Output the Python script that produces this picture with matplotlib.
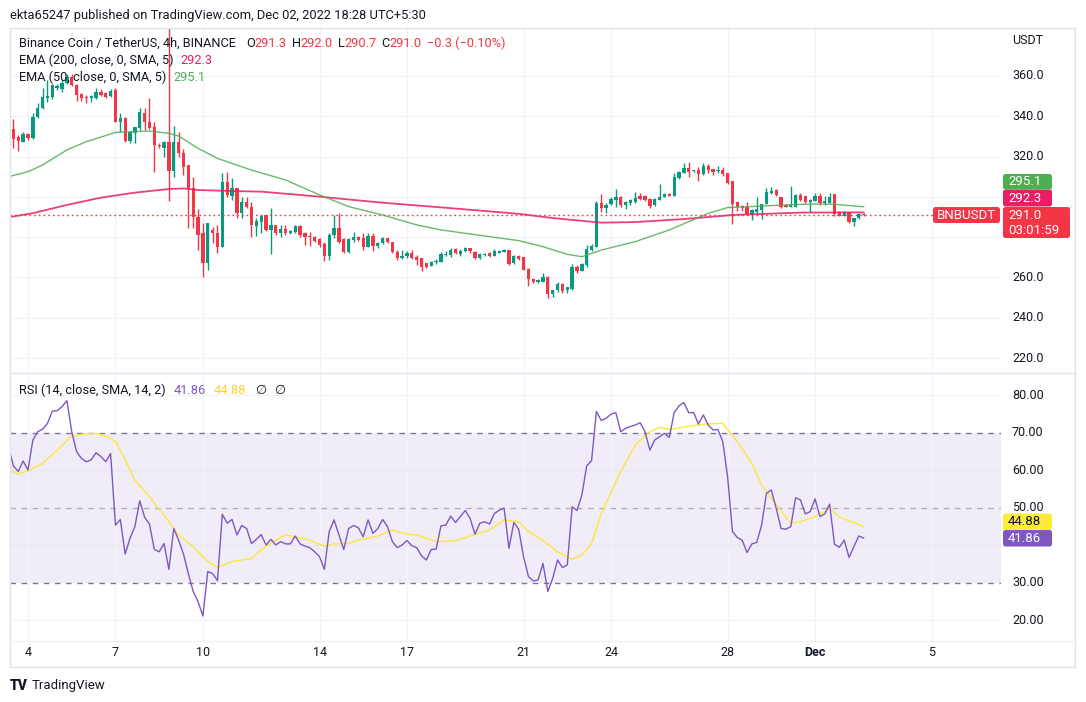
import matplotlib
matplotlib.use("Agg")
import matplotlib.pyplot as plt
from matplotlib.patches import FancyBboxPatch
from matplotlib.transforms import IdentityTransform, blended_transform_factory
from matplotlib.lines import Line2D

plt.rcParams['font.family'] = ['Roboto', 'DejaVu Sans']

# ---------------- data ----------------
opens = [326.0, 333.5, 329.6, 327.4, 331.2, 329.1, 339.8, 344.0, 349.0, 349.5,
         354.0, 353.5, 356.4, 359.7, 355.5, 351.0, 349.7, 348.9, 348.9, 352.2,
         351.4, 350.2, 353.0, 337.3, 339.0, 327.8, 331.5, 334.0, 341.5, 337.3,
         334.9, 325.8, 324.4, 327.1, 313.0, 327.4, 321.6, 315.8, 304.2, 290.2,
         282.0, 267.0, 283.6, 281.9, 275.3, 307.6, 300.4, 304.2, 291.8, 297.6,
         295.1, 285.6, 287.7, 291.0, 283.6, 286.0, 282.3, 284.1, 282.3, 282.8,
         285.6, 281.9, 280.6, 280.0, 278.9, 276.5, 270.8, 281.0, 284.4, 279.0,
         272.5, 278.6, 280.3, 279.4, 275.3, 280.8, 275.8, 277.0, 279.4, 277.5,
         272.5, 269.8, 270.6, 272.0, 270.3, 269.8, 267.4, 265.9, 267.6, 267.9,
         271.2, 271.2, 274.0, 271.5, 273.1, 274.5, 272.8, 269.5, 271.2, 272.0,
         270.8, 272.3, 272.8, 273.6, 267.1, 270.7, 270.0, 264.0, 259.1, 258.0,
         258.0, 260.4, 251.8, 253.8, 256.8, 253.8, 254.1, 265.4, 263.4, 266.2,
         273.7, 275.3, 297.1, 294.3, 296.3, 298.5, 299.8, 296.0, 296.8, 297.6,
         300.4, 300.4, 298.8, 296.0, 298.5, 300.1, 301.4, 300.4, 309.2, 312.0,
         314.2, 312.8, 313.4, 311.2, 315.3, 314.0, 312.8, 313.3, 312.0, 307.9,
         297.6, 295.5, 294.8, 291.5, 292.7, 293.5, 296.5, 301.8, 303.4, 300.1,
         296.0, 295.2, 295.2, 300.9, 300.4, 297.6, 298.0, 300.4, 296.8, 297.1,
         301.4, 292.7, 290.5, 292.7, 287.7, 289.4, 291.3]
highs = [334.0, 338.5, 330.7, 332.4, 331.5, 341.8, 346.4, 354.2, 358.0, 356.0,
         356.0, 358.0, 361.0, 361.0, 356.0, 351.5, 350.6, 350.6, 353.9, 353.5,
         352.2, 353.5, 353.9, 341.5, 339.5, 332.6, 334.9, 344.3, 344.3, 349.3,
         337.3, 326.5, 327.7, 398.0, 335.0, 332.4, 324.0, 315.8, 310.0, 294.0,
         287.0, 287.0, 285.0, 286.0, 311.7, 312.5, 309.2, 304.2, 300.0, 300.0,
         297.6, 289.4, 291.0, 291.0, 294.3, 286.0, 286.0, 286.0, 283.6, 286.0,
         286.0, 282.8, 282.8, 280.6, 279.4, 277.8, 281.9, 291.0, 292.0, 279.4,
         279.5, 282.8, 280.8, 281.9, 281.9, 281.9, 277.8, 280.0, 279.8, 277.8,
         273.6, 273.6, 273.2, 273.6, 271.0, 269.8, 267.4, 268.2, 269.2, 272.5,
         273.2, 274.5, 274.5, 274.0, 275.3, 274.8, 273.2, 272.0, 272.3, 272.5,
         274.2, 273.8, 274.0, 273.8, 271.2, 271.2, 270.0, 264.5, 259.6, 259.1,
         262.4, 260.7, 254.0, 258.0, 257.2, 255.5, 266.6, 266.0, 267.0, 276.0,
         276.5, 298.0, 301.4, 296.8, 300.0, 303.8, 300.2, 298.0, 299.0, 302.6,
         301.7, 300.8, 299.2, 299.5, 306.2, 301.8, 302.0, 311.7, 313.0, 316.7,
         317.5, 313.5, 315.0, 316.7, 316.3, 314.0, 315.3, 315.0, 312.0, 307.9,
         298.1, 296.0, 297.6, 293.8, 299.8, 296.5, 304.2, 305.1, 303.8, 300.1,
         296.2, 305.4, 301.2, 301.8, 300.6, 298.8, 302.1, 302.1, 300.4, 302.1,
         301.4, 292.9, 292.9, 292.7, 289.4, 292.2, 292.0]
lows = [322.0, 324.1, 322.9, 327.0, 328.2, 328.6, 339.0, 343.6, 347.0, 348.4,
        353.0, 352.2, 355.8, 355.0, 347.8, 347.5, 346.4, 347.3, 348.5, 350.3,
        348.9, 349.7, 337.0, 332.4, 327.0, 326.6, 326.6, 333.2, 333.2, 333.7,
        312.5, 324.4, 320.0, 298.0, 310.0, 320.0, 311.0, 284.4, 284.4, 273.6,
        260.4, 263.7, 277.0, 272.0, 275.0, 300.1, 298.5, 289.4, 289.4, 294.3,
        280.3, 280.6, 282.3, 283.2, 271.7, 281.1, 280.3, 281.1, 281.5, 282.0,
        280.3, 276.1, 275.6, 277.8, 275.3, 268.2, 268.7, 279.5, 277.0, 272.0,
        272.0, 277.8, 278.1, 273.7, 275.0, 273.2, 274.5, 276.6, 277.2, 272.0,
        268.7, 269.0, 269.8, 269.2, 266.2, 263.2, 264.5, 265.6, 266.5, 267.5,
        270.8, 270.3, 271.5, 270.8, 272.8, 272.0, 269.0, 269.0, 270.7, 270.3,
        270.5, 272.0, 272.5, 266.2, 266.7, 268.7, 263.5, 255.8, 257.1, 257.1,
        257.8, 250.0, 250.5, 253.0, 252.5, 252.5, 254.0, 262.0, 263.0, 265.0,
        273.2, 275.0, 292.7, 292.0, 296.0, 295.2, 295.0, 294.0, 296.2, 297.0,
        298.3, 297.8, 294.3, 295.5, 298.3, 299.8, 300.2, 300.2, 308.8, 311.7,
        310.0, 312.3, 308.1, 310.9, 311.7, 310.9, 311.7, 310.4, 306.4, 286.5,
        293.2, 293.2, 291.0, 288.5, 291.5, 289.2, 296.3, 301.5, 300.4, 294.3,
        295.0, 295.0, 295.0, 298.2, 297.0, 292.7, 297.8, 296.0, 296.0, 297.0,
        290.5, 290.3, 290.3, 286.9, 285.6, 288.9, 290.7]
closes = [332.5, 328.7, 327.7, 331.2, 329.1, 339.5, 344.0, 349.5, 350.0, 355.5,
          355.0, 356.4, 359.7, 355.5, 350.6, 348.9, 348.9, 350.1, 352.2, 350.6,
          349.7, 352.7, 337.3, 339.3, 327.7, 332.4, 334.9, 342.3, 337.0, 334.0,
          325.8, 325.0, 327.1, 313.0, 327.4, 321.6, 315.0, 304.2, 290.2, 281.1,
          267.0, 287.0, 281.9, 275.3, 307.6, 301.0, 304.4, 291.8, 297.6, 295.1,
          286.1, 288.0, 290.5, 283.6, 286.0, 281.9, 284.1, 282.3, 283.1, 285.6,
          281.1, 280.0, 280.0, 278.3, 276.1, 270.8, 281.1, 284.4, 277.5, 272.5,
          279.1, 280.3, 278.6, 275.3, 280.8, 275.6, 277.0, 279.4, 277.5, 272.5,
          269.8, 270.8, 272.0, 269.8, 268.7, 265.4, 265.4, 267.9, 268.0, 271.5,
          271.8, 273.7, 272.3, 273.3, 274.5, 273.0, 269.5, 271.7, 271.7, 270.7,
          273.3, 273.3, 273.6, 266.5, 270.7, 269.0, 263.7, 259.1, 258.0, 258.8,
          260.4, 251.8, 253.8, 256.8, 253.5, 255.1, 265.0, 263.4, 266.7, 274.0,
          275.6, 296.8, 294.6, 296.0, 298.8, 299.8, 296.0, 297.6, 298.5, 299.3,
          298.8, 298.5, 295.5, 298.8, 299.8, 301.4, 300.4, 309.7, 312.5, 314.2,
          312.2, 312.9, 311.2, 315.3, 313.4, 312.5, 313.3, 311.2, 307.0, 296.5,
          295.2, 294.3, 291.5, 293.5, 293.8, 296.5, 302.6, 303.1, 300.9, 295.2,
          295.2, 296.0, 300.9, 298.5, 297.6, 298.5, 300.4, 296.8, 298.1, 299.8,
          291.5, 290.5, 292.7, 287.7, 289.4, 291.5, 291.0]

ema50_idx = [0, 4, 7, 12, 16, 21, 22, 29, 33, 35, 39, 43, 46, 50, 57, 64, 70, 77,
             84, 89, 98, 105, 110, 115, 118, 122, 129, 136, 140, 144, 148, 153,
             160, 166, 170, 176]
ema50 = [310.0, 312.5, 315.8, 323.3, 327.4, 331.2, 332.0, 332.7, 331.5, 330.2,
         324.1, 319.1, 316.6, 313.3, 308.4, 301.0, 295.2, 291.0, 286.1, 283.6,
         280.6, 278.3, 275.3, 271.5, 270.3, 273.6, 277.8, 283.6, 287.7, 291.8,
         294.7, 295.2, 296.0, 296.5, 296.3, 295.1]
ema200_idx = [0, 5, 12, 19, 26, 33, 36, 39, 46, 52, 64, 77, 91, 105, 112, 122,
              129, 139, 149, 163, 176]
ema200 = [289.9, 291.9, 296.0, 299.6, 302.1, 303.9, 304.2, 303.4, 302.9, 302.6,
          300.1, 297.1, 294.4, 291.6, 289.5, 287.2, 287.5, 289.0, 291.0, 292.2,
          292.3]

rsi = [66.2, 61.1, 59.6, 62.4, 60.0, 68.0, 70.2, 70.9, 72.4, 75.7,
       75.8, 76.9, 78.5, 70.2, 64.9, 63.1, 62.2, 62.7, 64.6, 63.6,
       62.2, 64.4, 45.3, 46.8, 37.6, 41.8, 44.9, 51.8, 47.4, 45.6,
       38.8, 38.2, 40.4, 33.5, 44.4, 41.3, 37.6, 32.4, 27.6, 24.9,
       21.1, 32.9, 32.4, 30.5, 48.2, 45.8, 46.8, 42.7, 45.2, 44.4,
       40.4, 41.5, 42.8, 40.0, 41.5, 40.0, 40.9, 40.3, 40.3, 42.4,
       40.3, 39.7, 39.3, 38.2, 36.9, 33.5, 43.6, 46.7, 42.7, 38.8,
       44.4, 45.2, 44.6, 42.2, 46.7, 43.1, 44.4, 46.8, 44.9, 40.9,
       39.3, 40.0, 41.2, 39.8, 39.3, 37.1, 36.0, 38.8, 38.9, 45.1,
       45.3, 47.7, 46.0, 47.6, 49.2, 47.1, 42.9, 45.8, 46.2, 45.6,
       48.4, 49.3, 49.8, 39.1, 46.0, 44.2, 36.9, 31.6, 30.4, 30.7,
       35.1, 27.6, 31.1, 36.0, 34.0, 34.7, 50.2, 49.2, 53.3, 61.1,
       62.5, 75.6, 73.2, 73.8, 74.9, 75.3, 70.2, 71.1, 71.6, 72.0,
       72.6, 70.2, 65.3, 68.0, 68.9, 69.8, 68.7, 75.3, 77.1, 78.0,
       75.3, 75.3, 72.3, 74.7, 72.0, 70.7, 70.8, 67.6, 58.2, 43.6,
       42.0, 41.3, 38.0, 40.3, 40.7, 45.3, 53.8, 54.7, 49.8, 44.4,
       44.2, 44.9, 52.6, 52.0, 48.3, 48.9, 52.3, 47.6, 48.3, 50.9,
       40.2, 39.4, 41.3, 36.7, 39.6, 42.4, 41.86]

rsi_ma_idx = [0, 2, 4, 7, 10, 13, 15, 18, 20, 22, 24, 26, 29, 33, 35, 38, 41, 43,
              46, 50, 52, 55, 57, 59, 62, 65, 67, 70, 72, 76, 79, 82, 84, 88, 92,
              96, 99, 102, 105, 107, 110, 113, 116, 118, 120, 122, 126, 129, 132,
              134, 136, 140, 143, 146, 147, 150, 153, 155, 157, 161, 163, 166,
              168, 169, 171, 174, 176]
rsi_ma = [60.2, 58.9, 59.8, 61.8, 65.3, 69.1, 69.5, 69.8, 69.1, 67.6, 62.7, 57.3,
          52.9, 46.2, 42.7, 39.6, 35.6, 34.0, 35.6, 36.4, 38.7, 41.3, 42.7, 42.2,
          41.3, 39.7, 40.3, 40.4, 41.3, 42.4, 44.0, 42.9, 42.7, 40.9, 41.1, 42.8,
          44.0, 46.7, 46.2, 43.6, 41.2, 38.2, 36.2, 37.3, 40.4, 48.4, 59.6, 66.7,
          70.2, 71.4, 70.8, 71.7, 72.2, 72.4, 72.4, 67.6, 61.8, 56.0, 52.4, 45.8,
          46.2, 47.6, 48.9, 49.8, 47.4, 46.0, 44.88]

day_ticks = [4, 7, 10, 14, 17, 21, 24, 28, 31, 35]
day_labels = ['4', '7', '10', '14', '17', '21', '24', '28', 'Dec', '5']
price_ticks = [220, 240, 260, 280, 300, 320, 340, 360]
rsi_ticks = [20, 30, 40, 50, 60, 70, 80]

first_candle_day = 3 + 8 / 24.0   # Nov 3, 08:00
candle_step = 4 / 24.0            # 4h candles

last_o, last_h, last_l, last_c = 291.3, 292.0, 290.7, 291.0
ema200_last, ema50_last = 292.3, 295.1
rsi_last, rsi_ma_last = 41.86, 44.88

# ---------------- style ----------------
UP = '#089981'
DN = '#F23645'
TXT = '#131722'
GRID = '#F0F3FA'
BORDER = '#E0E3EB'
C200 = '#E91E63'
C50 = '#4CAF50'
CRSI = '#7E57C2'
CMA = '#FDE73A'

W, H = 1086, 702
fig = plt.figure(figsize=(W / 100, H / 100), dpi=100)
fig.patch.set_facecolor('white')

L, R = 10, 1001
ax = fig.add_axes([L / W, (H - 372) / H, (R - L) / W, 344 / H])
axr = fig.add_axes([L / W, (H - 641) / H, (R - L) / W, 268 / H])

xl = (3.3825, 37.379)
ax.set_xlim(*xl)
axr.set_xlim(*xl)
ax.set_ylim(213.1, 383.8)
axr.set_ylim(14.4, 85.87)
for a in (ax, axr):
    a.set_facecolor('white')
    for s in a.spines.values():
        s.set_visible(False)
    a.set_xticks([])
    a.set_yticks([])
    for d in day_ticks:
        a.axvline(d, color=GRID, lw=1, zorder=0.5)

for p in price_ticks:
    ax.axhline(p, color=GRID, lw=1, zorder=0.5)
for v in rsi_ticks:
    if v not in (30, 50, 70):
        axr.axhline(v, color='#E9E6F0' if 30 < v < 70 else GRID, lw=1, zorder=0.5)

# ---- candles ----
n = len(closes)
xs = [first_candle_day + i * candle_step for i in range(n)]
cols = [UP if c >= o else DN for o, c in zip(opens, closes)]
ax.vlines(xs, lows, highs, colors=cols, lw=1, zorder=3)
bottoms = [min(o, c) for o, c in zip(opens, closes)]
heights = [max(abs(c - o), 0.35) for o, c in zip(opens, closes)]
ax.bar(xs, heights, bottom=bottoms, width=0.68 * candle_step, color=cols,
       linewidth=0, zorder=4)

# ---- EMAs ----
ax.plot([xs[i] for i in ema200_idx], ema200, color=C200, lw=1.3, alpha=0.85, zorder=5)
ax.plot([xs[i] for i in ema50_idx], ema50, color=C50, lw=1.0, alpha=0.85, zorder=5)
ax.axhline(last_c, color=DN, lw=1, ls=(0, (1.2, 2.2)), zorder=6)

# ---- RSI ----
axr.axhspan(30, 70, color=CRSI, alpha=0.1, lw=0, zorder=0.3)
for v, al in ((70, 1.0), (30, 1.0), (50, 0.55)):
    axr.axhline(v, color='#787B86', lw=1, ls=(0, (4, 4)), alpha=al, zorder=1)
axr.plot([xs[i] for i in rsi_ma_idx], rsi_ma, color=CMA, lw=1.0, zorder=3)
axr.plot(xs, rsi, color=CRSI, lw=1.0, zorder=4)

# ---------------- frame ----------------
def hline_px(y, x0, x1, color=BORDER):
    fig.add_artist(Line2D([x0, x1], [H - y, H - y], transform=IdentityTransform(),
                          color=color, lw=1, zorder=20))

def vline_px(x, y0, y1, color=BORDER):
    fig.add_artist(Line2D([x, x], [H - y0, H - y1], transform=IdentityTransform(),
                          color=color, lw=1, zorder=20))

hline_px(28, 10, 1075)
hline_px(667, 10, 1075)
vline_px(10, 28, 667)
vline_px(1075, 28, 667)
hline_px(373, 10, 1075)
hline_px(641, 10, 1075, color='#EEF0F4')

def img_y(a, v):
    return H - a.transData.transform((0, v))[1]

# tag spans (image pixel rows) so that covered axis labels are not drawn
yc = img_y(ax, last_c)
yr = img_y(axr, rsi_last)
price_tag_span = (yc - 41, yc + 23)
rsi_tag_span = (yr - 24.5, yr + 8.5)

# ---------------- axis labels ----------------
bt = blended_transform_factory(ax.transAxes, ax.transData)
xoff = (1012 - L) / (R - L)
for p in price_ticks:
    yy = img_y(ax, p)
    if price_tag_span[0] - 6 < yy < price_tag_span[1] + 6:
        continue
    ax.text(xoff, p, f"{p:.1f}", transform=bt, ha='left', va='center',
            fontsize=9, color=TXT, clip_on=False, zorder=8)
fig.text(1012 / W, 1 - 40 / H, "USDT", ha='left', va='center', fontsize=9, color=TXT)

btr = blended_transform_factory(axr.transAxes, axr.transData)
for v in rsi_ticks:
    yy = img_y(axr, v)
    if rsi_tag_span[0] - 6 < yy < rsi_tag_span[1] + 6:
        continue
    axr.text(xoff, v, f"{v:.2f}", transform=btr, ha='left', va='center',
             fontsize=9, color=TXT, clip_on=False, zorder=8)

btx = blended_transform_factory(axr.transData, fig.transFigure)
for d, lab in zip(day_ticks, day_labels):
    axr.text(d, 1 - 653 / H, lab, transform=btx, ha='center', va='center',
             fontsize=9, color=TXT, fontweight='bold' if lab == 'Dec' else 'normal',
             clip_on=False)

# ---------------- legends ----------------
renderer = fig.canvas.get_renderer()

def chain(x, y, segs, size=9.2):
    for txt, color, gap in segs:
        t = fig.text(x / W, 1 - y / H, txt, color=color, fontsize=size,
                     ha='left', va='center', zorder=30)
        x += t.get_window_extent(renderer).width + gap

fig.text(10 / W, 1 - 15.5 / H,
         "ekta65247 published on TradingView.com, Dec 02, 2022 18:28 UTC+5:30",
         fontsize=9.3, color=TXT, ha='left', va='center')

chain(19, 43.5, [("Binance Coin / TetherUS, 4h, BINANCE", TXT, 10),
                 ("O", TXT, 0), (f"{last_o:.1f}", DN, 5),
                 ("H", TXT, 0), (f"{last_h:.1f}", DN, 5),
                 ("L", TXT, 0), (f"{last_l:.1f}", DN, 5),
                 ("C", TXT, 0), (f"{last_c:.1f}", DN, 5),
                 ("\u22120.3 (\u22120.10%)", DN, 0)])
chain(19, 60.5, [("EMA (200, close, 0, SMA, 5)", TXT, 7), (f"{ema200_last:.1f}", C200, 0)])
chain(19, 77.5, [("EMA (50, close, 0, SMA, 5)", TXT, 7), (f"{ema50_last:.1f}", C50, 0)])
chain(19, 390, [("RSI (14, close, SMA, 14, 2)", TXT, 8), (f"{rsi_last:.2f}", CRSI, 8),
                (f"{rsi_ma_last:.2f}", '#F2D630', 9), ("\u2205", TXT, 8), ("\u2205", TXT, 0)])

# ---------------- price tags ----------------
def box(x0, y0, x1, y1, color, z=25):
    fig.add_artist(FancyBboxPatch((x0, H - y1), x1 - x0, y1 - y0,
                                  boxstyle="round,pad=0,rounding_size=2.5",
                                  transform=IdentityTransform(), fc=color, ec='none',
                                  zorder=z))

def label(x, y, s, color, size=9.5, ha='center'):
    fig.text(x / W, 1 - y / H, s, color=color, fontsize=size, ha=ha, va='center', zorder=40)

box(1003, yc - 8, 1070, yc + 23, DN)
label(1008, yc, f"{last_c:.1f}", 'white', ha='left')
label(1008, yc + 15, "03:01:59", 'white', ha='left')
box(933, yc - 8, 1000, yc + 8, DN)
label(966.5, yc, "BNBUSDT", 'white')
box(1003, yc - 25.5, 1052, yc - 8.5, C200)
label(1008, yc - 17, f"{ema200_last:.1f}", 'white', ha='left')
box(1003, yc - 41, 1052, yc - 25.5, C50)
label(1008, yc - 33.2, f"{ema50_last:.1f}", 'white', ha='left')

box(1003, yr - 8, 1052, yr + 8.5, CRSI)
label(1008, yr, f"{rsi_last:.2f}", 'white', ha='left')
box(1003, yr - 24.5, 1052, yr - 8, '#FDEB3A')
label(1008, yr - 16.2, f"{rsi_ma_last:.2f}", TXT, ha='left')

# ---------------- footer ----------------
fig.text(10 / W, 1 - 686 / H, "TV", fontsize=10, fontweight='black', color=TXT,
         ha='left', va='center')
fig.text(32 / W, 1 - 686 / H, "TradingView", fontsize=9.5, color=TXT,
         ha='left', va='center')

fig.savefig("out.png", dpi=100, facecolor='white')
